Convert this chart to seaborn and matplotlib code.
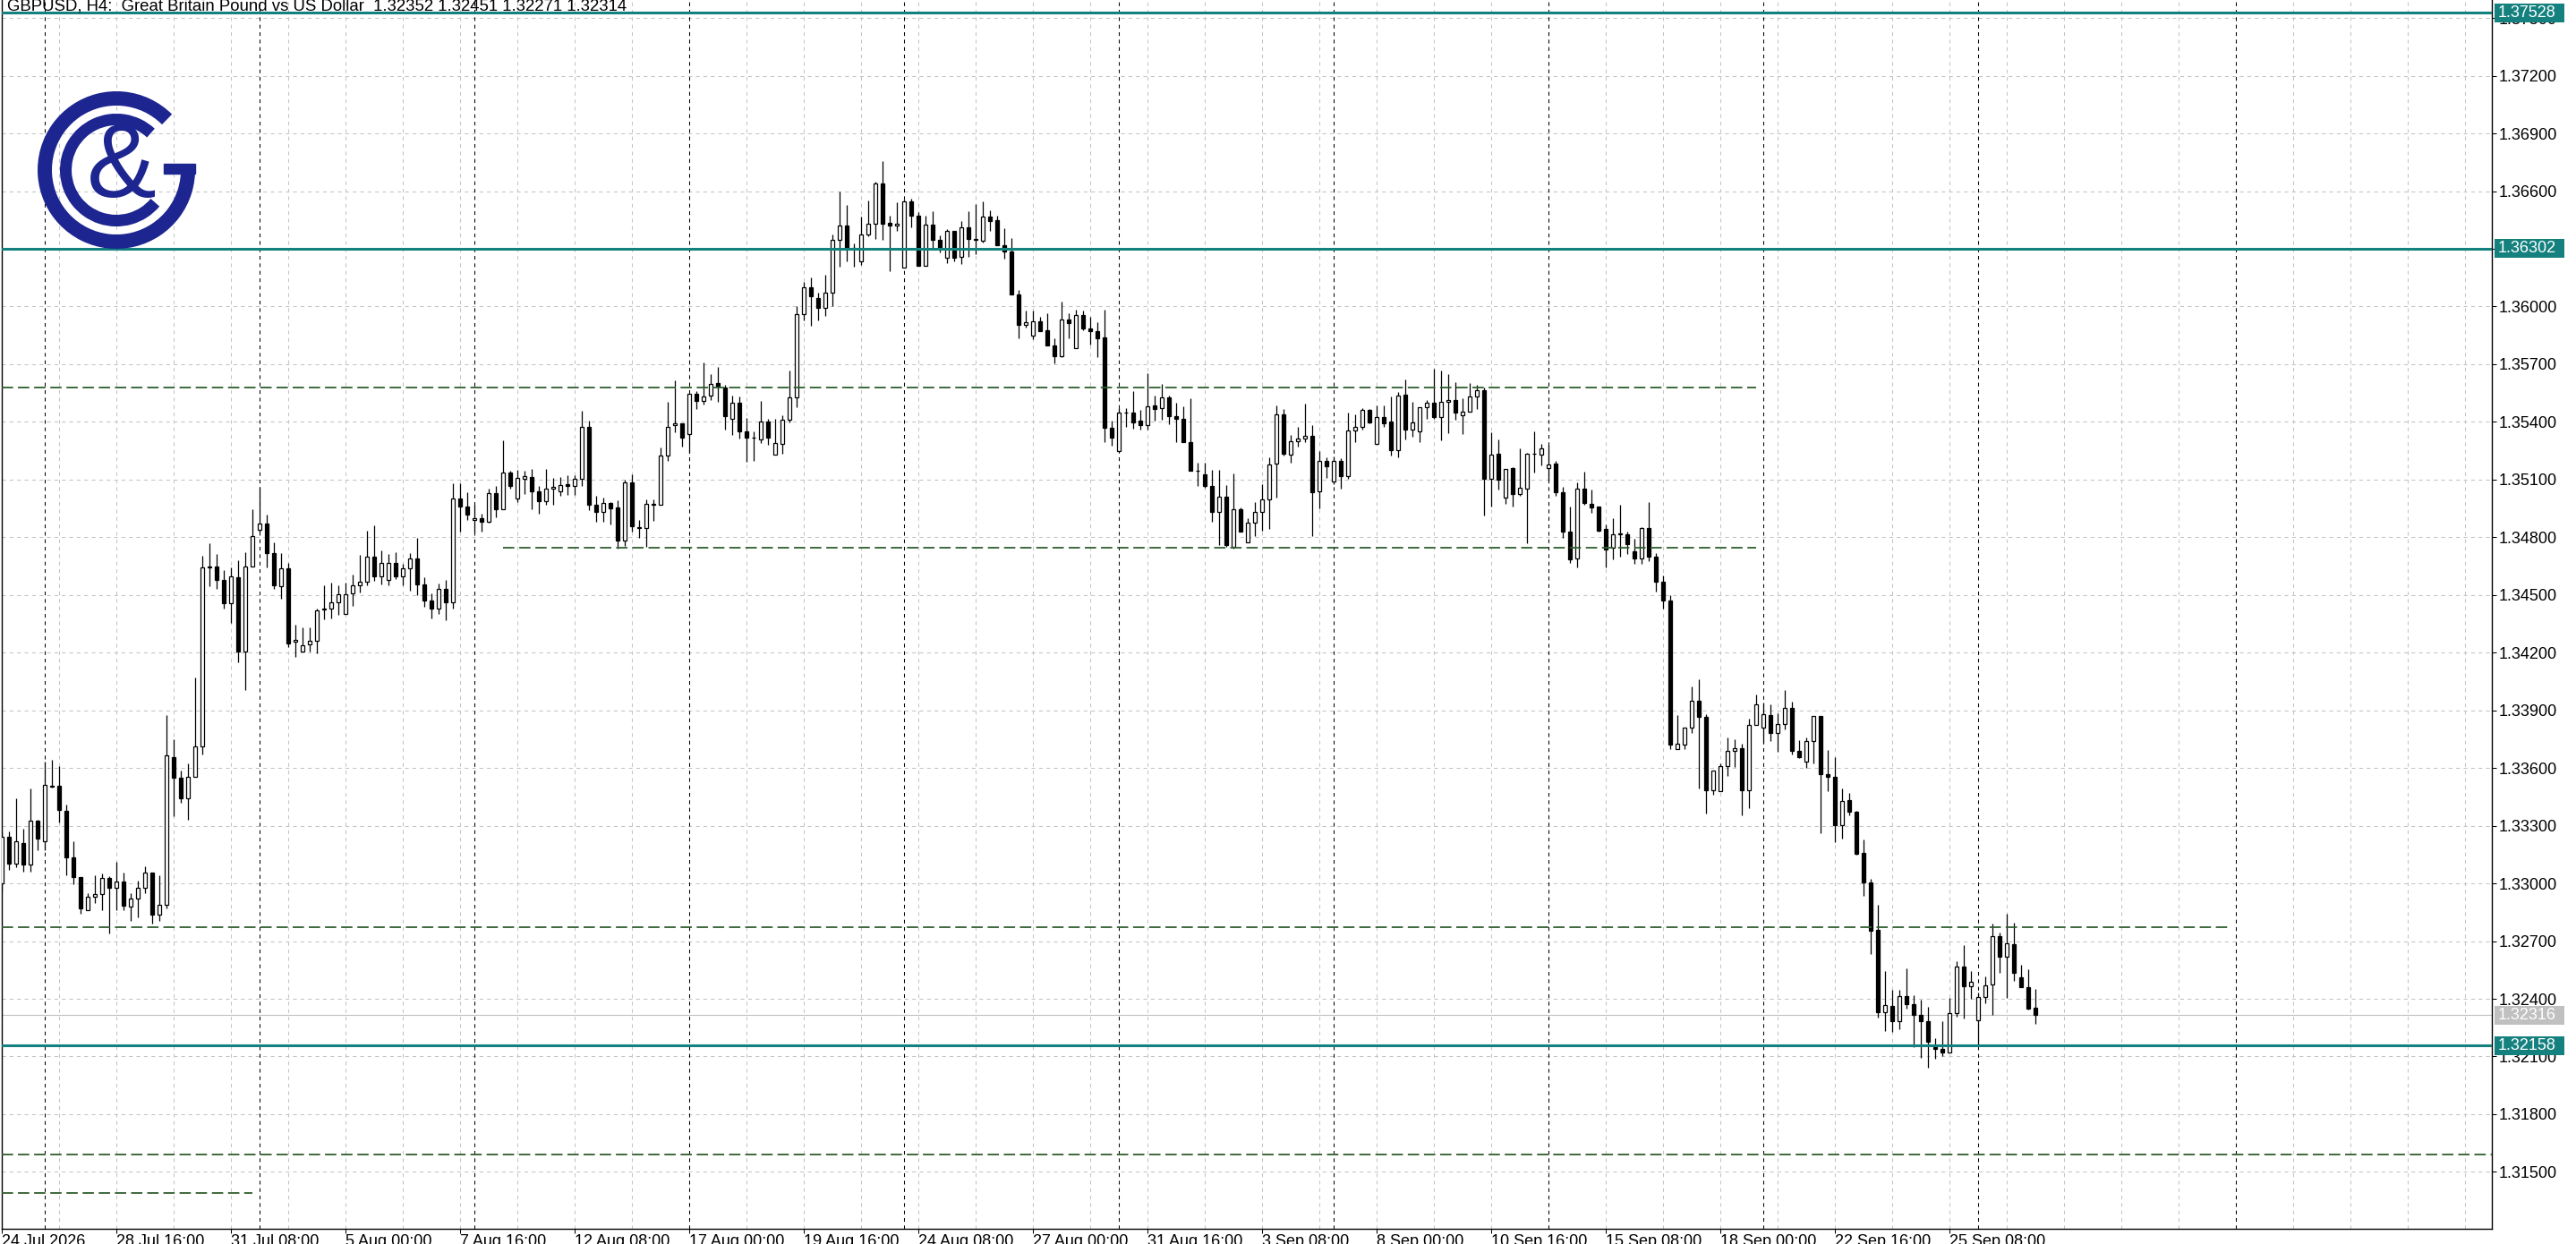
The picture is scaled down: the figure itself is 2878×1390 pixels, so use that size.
import numpy as np
import pandas as pd
import matplotlib
matplotlib.use("Agg")
import matplotlib.pyplot as plt
import seaborn as sns
from matplotlib.patches import Arc, Rectangle
from matplotlib.transforms import blended_transform_factory

# GBPUSD H4 bars (bar 0 = 24 Jul 2026 00:00)
opens = [
    1.33000, 1.33244, 1.33103, 1.33212, 1.33097, 1.33327, 1.33217, 1.33508, 1.33508, 1.33377,
    1.33135, 1.33033, 1.32863, 1.32932, 1.32945, 1.33028, 1.32977, 1.33009, 1.32881, 1.32921,
    1.32977, 1.33057, 1.32836, 1.32887, 1.33655, 1.33548, 1.33441, 1.33556, 1.33711, 1.34649,
    1.34647, 1.34580, 1.34455, 1.34591, 1.34207, 1.34647, 1.34839, 1.34873, 1.34719, 1.34545,
    1.34640, 1.34255, 1.34204, 1.34241, 1.34260, 1.34425, 1.34428, 1.34460, 1.34400, 1.34508,
    1.34548, 1.34567, 1.34697, 1.34599, 1.34577, 1.34668, 1.34599, 1.34640, 1.34692, 1.34556,
    1.34470, 1.34430, 1.34530, 1.34460, 1.35000, 1.34959, 1.34892, 1.34900, 1.34882, 1.35028,
    1.34947, 1.35137, 1.35000, 1.35104, 1.35114, 1.35040, 1.34988, 1.35055, 1.35040, 1.35078,
    1.35066, 1.35106, 1.35375, 1.34970, 1.34931, 1.34977, 1.34957, 1.34784, 1.35086, 1.34850,
    1.34849, 1.34974, 1.34970, 1.35225, 1.35383, 1.35391, 1.35336, 1.35545, 1.35508, 1.35537,
    1.35604, 1.35581, 1.35415, 1.35499, 1.35349, 1.35318, 1.35310, 1.35403, 1.35230, 1.35287,
    1.35413, 1.35526, 1.35960, 1.36100, 1.36046, 1.35992, 1.36070, 1.36348, 1.36420, 1.36305,
    1.36237, 1.36374, 1.36429, 1.36642, 1.36433, 1.36420, 1.36201, 1.36545, 1.36472, 1.36214,
    1.36425, 1.36345, 1.36252, 1.36391, 1.36260, 1.36410, 1.36353, 1.36340, 1.36467, 1.36447,
    1.36320, 1.36286, 1.36065, 1.35905, 1.35849, 1.35923, 1.35877, 1.35796, 1.35740, 1.35931,
    1.35784, 1.35957, 1.35884, 1.35872, 1.35841, 1.35371, 1.35250, 1.35448, 1.35448, 1.35405,
    1.35385, 1.35487, 1.35470, 1.35529, 1.35428, 1.35417, 1.35297, 1.35147, 1.35126, 1.35065,
    1.34930, 1.35010, 1.34750, 1.34944, 1.34774, 1.34877, 1.34931, 1.34996, 1.35184, 1.35437,
    1.35230, 1.35298, 1.35314, 1.35329, 1.35040, 1.35197, 1.35089, 1.35197, 1.35117, 1.35357,
    1.35372, 1.35462, 1.35284, 1.35426, 1.35400, 1.35253, 1.35543, 1.35360, 1.35352, 1.35478,
    1.35499, 1.35423, 1.35504, 1.35515, 1.35434, 1.35453, 1.35532, 1.35566, 1.35106, 1.35236,
    1.35006, 1.35159, 1.35024, 1.35055, 1.35233, 1.35230, 1.35160, 1.35182, 1.35035, 1.34831,
    1.34688, 1.35055, 1.34975, 1.34958, 1.34842, 1.34746, 1.34815, 1.34815, 1.34726, 1.34692,
    1.34846, 1.34699, 1.34571, 1.34470, 1.33697, 1.33723, 1.33809, 1.33948, 1.33866, 1.33486,
    1.33478, 1.33610, 1.33689, 1.33703, 1.33483, 1.33824, 1.33809, 1.33874, 1.33781, 1.33827,
    1.33913, 1.33689, 1.33633, 1.33739, 1.33871, 1.33570, 1.33553, 1.33305, 1.33433, 1.33371,
    1.33157, 1.33007, 1.32757, 1.32332, 1.32363, 1.32285, 1.32413, 1.32371, 1.32315, 1.32285,
    1.32149, 1.32140, 1.32122, 1.32327, 1.32568, 1.32464, 1.32290, 1.32408, 1.32473, 1.32727,
    1.32619, 1.32682, 1.32511, 1.32462, 1.32352,
]
highs = [
    1.33270, 1.33271, 1.33444, 1.33284, 1.33492, 1.33330, 1.33633, 1.33641, 1.33612, 1.33412,
    1.33217, 1.33033, 1.32948, 1.33044, 1.33052, 1.33036, 1.33113, 1.33057, 1.32948, 1.33015,
    1.33089, 1.33057, 1.33044, 1.33876, 1.33751, 1.33588, 1.33623, 1.34071, 1.34703, 1.34767,
    1.34711, 1.34628, 1.34644, 1.34679, 1.34724, 1.34948, 1.35060, 1.34916, 1.34775, 1.34716,
    1.34668, 1.34345, 1.34332, 1.34332, 1.34428, 1.34548, 1.34564, 1.34548, 1.34564, 1.34604,
    1.34708, 1.34836, 1.34860, 1.34732, 1.34711, 1.34724, 1.34660, 1.34716, 1.34796, 1.34590,
    1.34510, 1.34560, 1.34580, 1.35083, 1.35083, 1.35035, 1.34967, 1.34923, 1.35055, 1.35066,
    1.35305, 1.35148, 1.35151, 1.35148, 1.35155, 1.35066, 1.35155, 1.35109, 1.35112, 1.35124,
    1.35124, 1.35457, 1.35406, 1.35016, 1.35008, 1.34985, 1.34993, 1.35101, 1.35127, 1.34892,
    1.34996, 1.34996, 1.35267, 1.35503, 1.35616, 1.35391, 1.35545, 1.35560, 1.35709, 1.35647,
    1.35684, 1.35591, 1.35537, 1.35534, 1.35421, 1.35349, 1.35508, 1.35415, 1.35418, 1.35434,
    1.35666, 1.36000, 1.36130, 1.36150, 1.36070, 1.36165, 1.36374, 1.36596, 1.36526, 1.36328,
    1.36467, 1.36552, 1.36650, 1.36758, 1.36472, 1.36540, 1.36557, 1.36560, 1.36490, 1.36472,
    1.36495, 1.36371, 1.36402, 1.36395, 1.36444, 1.36495, 1.36534, 1.36549, 1.36500, 1.36472,
    1.36407, 1.36356, 1.36085, 1.35977, 1.35977, 1.35946, 1.35966, 1.35835, 1.36027, 1.35966,
    1.35985, 1.35977, 1.35946, 1.35920, 1.35982, 1.35405, 1.35474, 1.35474, 1.35559, 1.35462,
    1.35655, 1.35536, 1.35598, 1.35536, 1.35498, 1.35482, 1.35521, 1.35188, 1.35188, 1.35150,
    1.35150, 1.35072, 1.35130, 1.34955, 1.34897, 1.34985, 1.35075, 1.35218, 1.35484, 1.35465,
    1.35334, 1.35372, 1.35493, 1.35385, 1.35249, 1.35214, 1.35220, 1.35213, 1.35450, 1.35437,
    1.35473, 1.35465, 1.35488, 1.35488, 1.35530, 1.35555, 1.35620, 1.35504, 1.35478, 1.35512,
    1.35677, 1.35666, 1.35648, 1.35607, 1.35524, 1.35604, 1.35594, 1.35577, 1.35344, 1.35307,
    1.35156, 1.35163, 1.35264, 1.35240, 1.35349, 1.35284, 1.35283, 1.35197, 1.35063, 1.34962,
    1.35086, 1.35140, 1.35047, 1.34962, 1.34865, 1.34897, 1.34967, 1.34831, 1.34790, 1.34854,
    1.34981, 1.34720, 1.34600, 1.34500, 1.33875, 1.33809, 1.34026, 1.34060, 1.33878, 1.33587,
    1.33622, 1.33759, 1.33750, 1.33726, 1.33858, 1.33982, 1.33940, 1.33933, 1.33886, 1.34006,
    1.33945, 1.33744, 1.33759, 1.33871, 1.33871, 1.33692, 1.33658, 1.33494, 1.33472, 1.33377,
    1.33227, 1.33022, 1.32890, 1.32545, 1.32448, 1.32447, 1.32560, 1.32417, 1.32397, 1.32358,
    1.32196, 1.32282, 1.32405, 1.32596, 1.32681, 1.32545, 1.32433, 1.32518, 1.32793, 1.32743,
    1.32844, 1.32798, 1.32575, 1.32555, 1.32451,
]
lows = [
    1.32960, 1.33068, 1.33084, 1.33063, 1.33063, 1.33172, 1.33172, 1.33500, 1.33316, 1.33044,
    1.32996, 1.32844, 1.32860, 1.32897, 1.32860, 1.32740, 1.32860, 1.32860, 1.32804, 1.32825,
    1.32948, 1.32791, 1.32804, 1.32868, 1.33351, 1.33417, 1.33332, 1.33556, 1.33671, 1.34545,
    1.34532, 1.34428, 1.34356, 1.34148, 1.34004, 1.34647, 1.34823, 1.34644, 1.34532, 1.34480,
    1.34228, 1.34180, 1.34204, 1.34207, 1.34196, 1.34372, 1.34380, 1.34396, 1.34400, 1.34444,
    1.34513, 1.34551, 1.34572, 1.34556, 1.34548, 1.34583, 1.34548, 1.34524, 1.34497, 1.34440,
    1.34380, 1.34400, 1.34370, 1.34430, 1.34831, 1.34892, 1.34823, 1.34831, 1.34877, 1.34905,
    1.34947, 1.35055, 1.34985, 1.35024, 1.34947, 1.34923, 1.34970, 1.34970, 1.35016, 1.35019,
    1.35019, 1.35066, 1.34942, 1.34880, 1.34880, 1.34865, 1.34742, 1.34756, 1.34831, 1.34797,
    1.34750, 1.34885, 1.34970, 1.35199, 1.35345, 1.35271, 1.35237, 1.35465, 1.35492, 1.35514,
    1.35503, 1.35359, 1.35333, 1.35313, 1.35194, 1.35199, 1.35290, 1.35282, 1.35230, 1.35233,
    1.35398, 1.35475, 1.35930, 1.35899, 1.35930, 1.35949, 1.36000, 1.36209, 1.36237, 1.36206,
    1.36217, 1.36367, 1.36351, 1.36348, 1.36186, 1.36395, 1.36201, 1.36413, 1.36214, 1.36214,
    1.36294, 1.36283, 1.36224, 1.36237, 1.36220, 1.36258, 1.36274, 1.36333, 1.36395, 1.36320,
    1.36251, 1.36065, 1.35833, 1.35889, 1.35830, 1.35872, 1.35796, 1.35706, 1.35737, 1.35833,
    1.35784, 1.35877, 1.35804, 1.35737, 1.35297, 1.35274, 1.35250, 1.35374, 1.35366, 1.35362,
    1.35362, 1.35408, 1.35410, 1.35386, 1.35297, 1.35294, 1.35147, 1.35065, 1.35057, 1.34880,
    1.34760, 1.34750, 1.34740, 1.34831, 1.34774, 1.34808, 1.34834, 1.34843, 1.35006, 1.35225,
    1.35187, 1.35272, 1.35295, 1.34808, 1.34951, 1.35109, 1.35075, 1.35055, 1.35102, 1.35295,
    1.35360, 1.35391, 1.35284, 1.35372, 1.35225, 1.35214, 1.35307, 1.35321, 1.35295, 1.35416,
    1.35416, 1.35303, 1.35341, 1.35411, 1.35338, 1.35453, 1.35468, 1.34911, 1.34962, 1.35047,
    1.34975, 1.34958, 1.35016, 1.34769, 1.35137, 1.35174, 1.35094, 1.35016, 1.34797, 1.34668,
    1.34645, 1.34967, 1.34927, 1.34831, 1.34645, 1.34684, 1.34699, 1.34712, 1.34661, 1.34661,
    1.34674, 1.34520, 1.34430, 1.33700, 1.33697, 1.33697, 1.33782, 1.33494, 1.33363, 1.33460,
    1.33478, 1.33560, 1.33607, 1.33355, 1.33393, 1.33824, 1.33731, 1.33739, 1.33686, 1.33801,
    1.33672, 1.33650, 1.33599, 1.33622, 1.33263, 1.33478, 1.33216, 1.33235, 1.33356, 1.33149,
    1.32937, 1.32633, 1.32304, 1.32234, 1.32230, 1.32242, 1.32350, 1.32149, 1.32095, 1.32043,
    1.32090, 1.32102, 1.32122, 1.32307, 1.32296, 1.32400, 1.32157, 1.32378, 1.32316, 1.32534,
    1.32405, 1.32495, 1.32459, 1.32343, 1.32271,
]
closes = [
    1.33244, 1.33103, 1.33217, 1.33097, 1.33324, 1.33231, 1.33511, 1.33505, 1.33380, 1.33135,
    1.33033, 1.32868, 1.32932, 1.32943, 1.33028, 1.32977, 1.33009, 1.32884, 1.32921, 1.32977,
    1.33057, 1.32836, 1.32887, 1.33665, 1.33548, 1.33441, 1.33556, 1.33711, 1.34644, 1.34645,
    1.34580, 1.34455, 1.34596, 1.34207, 1.34647, 1.34807, 1.34873, 1.34719, 1.34548, 1.34640,
    1.34247, 1.34265, 1.34239, 1.34260, 1.34420, 1.34428, 1.34460, 1.34506, 1.34506, 1.34548,
    1.34567, 1.34697, 1.34599, 1.34668, 1.34668, 1.34599, 1.34639, 1.34692, 1.34556, 1.34470,
    1.34430, 1.34530, 1.34460, 1.35000, 1.34959, 1.34916, 1.34900, 1.34882, 1.35028, 1.34947,
    1.35137, 1.35066, 1.35109, 1.35117, 1.35040, 1.34988, 1.35055, 1.35062, 1.35073, 1.35067,
    1.35106, 1.35375, 1.34970, 1.34931, 1.34977, 1.34950, 1.34784, 1.35086, 1.34857, 1.34853,
    1.34974, 1.34970, 1.35225, 1.35376, 1.35391, 1.35318, 1.35545, 1.35508, 1.35530, 1.35599,
    1.35584, 1.35430, 1.35499, 1.35352, 1.35318, 1.35320, 1.35403, 1.35318, 1.35290, 1.35410,
    1.35526, 1.35960, 1.36100, 1.36054, 1.35992, 1.36070, 1.36348, 1.36420, 1.36305, 1.36305,
    1.36374, 1.36429, 1.36642, 1.36429, 1.36420, 1.36429, 1.36545, 1.36472, 1.36214, 1.36425,
    1.36345, 1.36302, 1.36391, 1.36255, 1.36410, 1.36353, 1.36345, 1.36467, 1.36446, 1.36320,
    1.36286, 1.36065, 1.35903, 1.35920, 1.35923, 1.35872, 1.35796, 1.35740, 1.35931, 1.35912,
    1.35957, 1.35884, 1.35872, 1.35835, 1.35371, 1.35320, 1.35448, 1.35450, 1.35397, 1.35385,
    1.35481, 1.35467, 1.35529, 1.35428, 1.35417, 1.35294, 1.35147, 1.35145, 1.35065, 1.34930,
    1.35010, 1.34760, 1.34944, 1.34831, 1.34877, 1.34931, 1.34996, 1.35179, 1.35437, 1.35236,
    1.35298, 1.35314, 1.35326, 1.35035, 1.35197, 1.35167, 1.35197, 1.35117, 1.35357, 1.35372,
    1.35462, 1.35396, 1.35426, 1.35391, 1.35253, 1.35538, 1.35360, 1.35399, 1.35478, 1.35499,
    1.35423, 1.35504, 1.35512, 1.35447, 1.35453, 1.35532, 1.35566, 1.35106, 1.35230, 1.35098,
    1.35156, 1.35024, 1.35058, 1.35236, 1.35236, 1.35261, 1.35179, 1.35035, 1.34831, 1.34684,
    1.35055, 1.34978, 1.34955, 1.34835, 1.34738, 1.34815, 1.34818, 1.34764, 1.34692, 1.34846,
    1.34699, 1.34571, 1.34470, 1.33723, 1.33726, 1.33809, 1.33948, 1.33866, 1.33486, 1.33587,
    1.33610, 1.33689, 1.33705, 1.33486, 1.33824, 1.33930, 1.33878, 1.33781, 1.33827, 1.33913,
    1.33688, 1.33658, 1.33739, 1.33871, 1.33570, 1.33553, 1.33305, 1.33429, 1.33371, 1.33154,
    1.33007, 1.32754, 1.32332, 1.32369, 1.32285, 1.32413, 1.32372, 1.32315, 1.32285, 1.32175,
    1.32138, 1.32122, 1.32327, 1.32568, 1.32464, 1.32487, 1.32408, 1.32470, 1.32727, 1.32619,
    1.32689, 1.32537, 1.32462, 1.32350, 1.32314,
]

date_labels = ["24 Jul 2026", "28 Jul 16:00", "31 Jul 08:00", "5 Aug 00:00", "7 Aug 16:00",
               "12 Aug 08:00", "17 Aug 00:00", "19 Aug 16:00", "24 Aug 08:00", "27 Aug 00:00",
               "31 Aug 16:00", "3 Sep 08:00", "8 Sep 00:00", "10 Sep 16:00", "15 Sep 08:00",
               "18 Sep 00:00", "22 Sep 16:00", "25 Sep 08:00"]
label_bars = list(range(0, 16 * len(date_labels), 16))
week_separators = [6, 36, 66, 96, 126, 156, 186, 216, 246, 276, 312]

title = "GBPUSD, H4:  Great Britain Pound vs US Dollar  1.32352 1.32451 1.32271 1.32314"
teal_levels = [1.37528, 1.36302, 1.32158]
last_price = 1.32316
# dashed support/resistance lines: level, first bar, last bar
green_levels = [1.35579, 1.34745, 1.32772, 1.31590, 1.31390]
green_start = [0, 70, 0, 0, 0]
green_end = [245, 245, 311, 348, 35]

sns.set_theme(style="white")
plt.rcParams['font.family'] = ['Liberation Sans', 'DejaVu Sans']

W, H = 2878, 1390
fig = plt.figure(figsize=(W / 100, H / 100), dpi=100)
fig.patch.set_facecolor('white')
ax = fig.add_axes([2 / W, 17 / H, 2782 / W, 1373 / H])
ax.set_facecolor('white')

ymin, ymax = 1.31204, 1.37594
ax.set_xlim(0, 2782 / 8)
ax.set_ylim(ymin, ymax)

teal = '#14817f'
green = '#2e5e2e'
grid_c = '#c4c4c4'

df = pd.DataFrame({'bar': np.arange(len(opens)), 'open': opens, 'high': highs,
                   'low': lows, 'close': closes})
df['bottom'] = df[['open', 'close']].min(axis=1)
df['body'] = (df['close'] - df['open']).abs().clip(lower=0.00002)
up = df[df['close'] >= df['open']]
down = df[df['close'] < df['open']]

# grid
y_ticks = np.round(np.arange(1.315, 1.3751, 0.003), 3)
for y in y_ticks:
    ax.axhline(y, color=grid_c, lw=0.75, ls=(0, (4, 4)), zorder=1)
for b in range(8, 348, 8):
    ax.axvline(b, color=grid_c, lw=0.75, ls=(0, (4, 4)), zorder=1)
for b in week_separators:
    ax.axvline(b, color='black', lw=0.75, ls=(0, (4, 4)), zorder=1.5)

ax.axhline(last_price, color='#c0c0c0', lw=0.8, zorder=2)

# candles
ax.vlines(df['bar'], df['low'], df['high'], color='black', lw=0.9, zorder=3)
ax.bar(up['bar'], up['body'], bottom=up['bottom'], width=0.62, color='white',
       edgecolor='black', linewidth=0.9, zorder=4)
ax.bar(down['bar'], down['body'], bottom=down['bottom'], width=0.62, color='black',
       edgecolor='black', linewidth=0.9, zorder=4)

# levels
ax.hlines(green_levels, green_start, green_end, colors=green, lw=1.3,
          linestyles=(0, (7, 3)), zorder=5)
for lvl in teal_levels:
    ax.axhline(lvl, color=teal, lw=2.2, zorder=6)

# axes
ax.yaxis.tick_right()
ax.set_yticks(y_ticks)
ax.set_yticklabels([f"{v:.5f}" for v in y_ticks])
ax.tick_params(axis='y', right=True, left=False, direction='out', length=3.6, width=0.75,
               color='black', pad=2, labelsize=13, labelcolor='black')
ax.set_xticks(label_bars)
ax.set_xticklabels(date_labels, ha='left')
ax.tick_params(axis='x', bottom=True, direction='out', length=3.6, width=0.75,
               color='black', pad=1, labelsize=13, labelcolor='black')
for s in ['left', 'right', 'bottom']:
    ax.spines[s].set_color('black')
    ax.spines[s].set_linewidth(1)
ax.spines['top'].set_visible(False)
ax.grid(False)

# price tags on the right scale
trans = blended_transform_factory(fig.transFigure, ax.transData)
px = (ymax - ymin) / 1373
tags = [(lvl, teal) for lvl in teal_levels] + [(last_price, '#c0c0c0')]
for lvl, fc in tags:
    fig.add_artist(Rectangle((2787 / W, lvl - 10.5 * px), 78 / W, 21 * px, transform=trans,
                             facecolor=fc, edgecolor='none', zorder=10))
    fig.text(2791 / W, lvl, f"{lvl:.5f}", transform=trans, color='white', fontsize=13,
             va='center', ha='left', zorder=11)

fig.text(8 / W, 1 - 12 / H, title, fontsize=13.4, color='black', va='baseline', ha='left')

# logo
navy = '#1d2590'
lax = fig.add_axes([30 / W, (H - 285) / H, 200 / W, 190 / H])
lax.set_xlim(30, 230)
lax.set_ylim(285, 95)
lax.axis('off')
lax.patch.set_visible(False)
lax.add_patch(Arc((130, 190), 160, 160, theta1=-3, theta2=315, lw=11.5, color=navy))
lax.add_patch(Arc((130, 190), 113, 113, theta1=40, theta2=313, lw=9.4, color=navy))
lax.add_patch(Rectangle((183, 183), 35, 11, color=navy))
lax.text(136, 190, '&', fontsize=84, color=navy, ha='center', va='center')

fig.savefig("out.png", dpi=100, facecolor='white')
